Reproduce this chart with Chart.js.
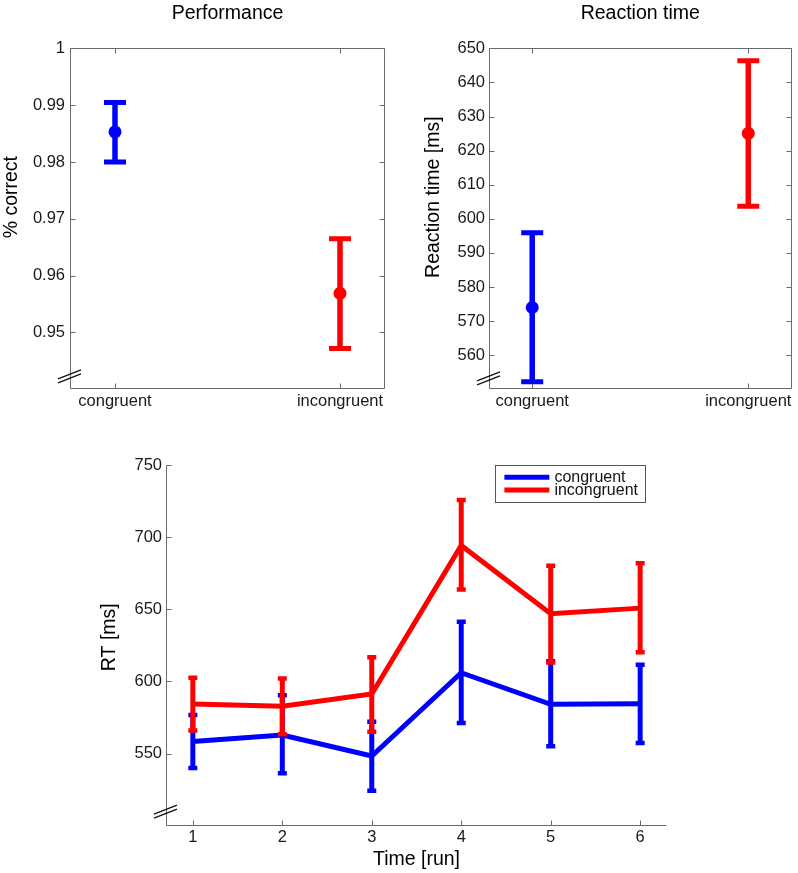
<!DOCTYPE html>
<html>
<head>
<meta charset="utf-8">
<script src="https://cdn.jsdelivr.net/npm/chart.js@4.4.0/dist/chart.umd.min.js"></script>
<style>
    html, body { margin: 0; padding: 0; background: #fff; }
    #wrap { position: relative; width: 798px; height: 873px; overflow: hidden; }
    .panel { position: absolute; }
</style>
</head>
<body>
<div id="wrap">
    <div class="panel" style="left:0;top:0"><canvas id="perfChart" width="399" height="420"></canvas></div>
    <div class="panel" style="left:399px;top:0"><canvas id="rtChart" width="399" height="420"></canvas></div>
    <div class="panel" style="left:0;top:420px"><canvas id="runChart" width="798" height="453"></canvas></div>
</div>
<script>
// Top panels: one value per condition
const conditions = ['congruent', 'incongruent'];
const conditionColors = ['#0000ff', '#ff0000'];

const accMean = [0.9853, 0.9569];
const accLow = [0.9800, 0.9472];
const accHigh = [0.9905, 0.9665];
const accTicks = [0.95, 0.96, 0.97, 0.98, 0.99, 1];

const rtMean = [574.0, 625.1];
const rtLow = [552.2, 603.7];
const rtHigh = [595.9, 646.4];
const rtTicks = [560, 570, 580, 590, 600, 610, 620, 630, 640, 650];

// Bottom panel: RT per run
const runs = [1, 2, 3, 4, 5, 6];
const congruentRT = [558.3, 562.9, 548.3, 606.0, 584.1, 584.5];
const congruentLow = [540.0, 536.3, 524.3, 571.2, 555.0, 557.3];
const congruentHigh = [576.7, 590.4, 572.1, 641.3, 614.0, 611.6];
const incongruentRT = [584.4, 582.8, 591.3, 694.2, 646.9, 650.8];
const incongruentLow = [565.9, 563.4, 565.2, 663.7, 613.2, 620.3];
const incongruentHigh = [602.6, 602.0, 616.7, 725.8, 680.1, 681.9];
const runRtTicks = [550, 600, 650, 700, 750];

Chart.defaults.font.family = '"Liberation Sans", Arial, Helvetica, sans-serif';
Chart.defaults.color = '#1a1a1a';

const tickFont = { size: 16.5 };
const titleFont = { size: 19.5, weight: 'normal' };

// error bars drawn from errLow / errHigh of each dataset
const errorBars = {
    id: 'errorBars',
    beforeDatasetDraw(chart, args, opts) {
        const ds = chart.data.datasets[args.index];
        if (!ds.errLow) return;
        const { ctx } = chart;
        const xs = chart.scales.x, ys = chart.scales.y;
        ctx.save();
        ds.data.forEach((p, i) => {
            const color = Array.isArray(ds.errColor) ? ds.errColor[i] : ds.errColor;
            const px = xs.getPixelForValue(p.x);
            const lo = ys.getPixelForValue(ds.errLow[i]);
            const hi = ys.getPixelForValue(ds.errHigh[i]);
            ctx.strokeStyle = color;
            ctx.lineWidth = opts.barWidth;
            ctx.beginPath();
            ctx.moveTo(px, lo);
            ctx.lineTo(px, hi);
            ctx.stroke();
            ctx.lineWidth = opts.capThickness;
            ctx.beginPath();
            ctx.moveTo(px - opts.capHalf, lo); ctx.lineTo(px + opts.capHalf, lo);
            ctx.moveTo(px - opts.capHalf, hi); ctx.lineTo(px + opts.capHalf, hi);
            ctx.stroke();
        });
        ctx.restore();
    }
};

// MATLAB-like axes: inward ticks, optional box, axis break mark
const matlabAxes = {
    id: 'matlabAxes',
    beforeDatasetsDraw(chart, args, opts) {
        const { ctx, chartArea: a } = chart;
        const xs = chart.scales.x, ys = chart.scales.y;
        const L = Math.round(a.left) + 0.5, R = Math.round(a.right) - 0.5;
        const T = Math.round(a.top) + 0.5, B = Math.round(a.bottom) - 0.5;
        const tick = 5;
        ctx.save();
        ctx.strokeStyle = '#6a6a6a';
        ctx.lineWidth = 1;
        ctx.beginPath();
        ctx.moveTo(L, T); ctx.lineTo(L, B); ctx.lineTo(R, B);
        if (opts.box) { ctx.lineTo(R, T); ctx.closePath(); }
        ys.ticks.forEach(t => {
            const py = Math.round(ys.getPixelForValue(t.value)) + 0.5;
            ctx.moveTo(L, py); ctx.lineTo(L + tick, py);
            if (opts.box) { ctx.moveTo(R, py); ctx.lineTo(R - tick, py); }
        });
        xs.ticks.forEach(t => {
            const px = Math.round(xs.getPixelForValue(t.value)) + 0.5;
            ctx.moveTo(px, B); ctx.lineTo(px, B - tick);
            if (opts.box) { ctx.moveTo(px, T); ctx.lineTo(px, T + tick); }
        });
        ctx.stroke();

        // the "//" break on the y axis
        const cy = a.bottom - opts.breakUp;
        ctx.strokeStyle = '#111';
        ctx.lineWidth = 1.3;
        ctx.beginPath();
        [-2, 2].forEach(d => {
            ctx.moveTo(a.left - 12, cy + 4.5 + d);
            ctx.lineTo(a.left + 11, cy - 4.5 + d);
        });
        ctx.stroke();
        ctx.restore();
    }
};

// legend box inside the plot, top right
const boxLegend = {
    id: 'boxLegend',
    afterDatasetsDraw(chart, args, opts) {
        const { ctx, chartArea: a } = chart;
        const sets = chart.data.datasets;
        ctx.save();
        ctx.font = '16px "Liberation Sans", Arial, sans-serif';
        const maxW = Math.max(...sets.map(d => ctx.measureText(d.label).width));
        const w = 9 + 45 + 5 + maxW + 7;
        const h = 37.4;
        const right = a.right - 22;
        const left = right - w;
        const top = a.top - 0.5;
        ctx.fillStyle = '#fff';
        ctx.fillRect(left, top, w, h);
        ctx.strokeStyle = '#555';
        ctx.lineWidth = 1;
        ctx.strokeRect(Math.round(left) + 0.5, Math.round(top) + 0.5, Math.round(w), Math.round(h));
        sets.forEach((d, i) => {
            const y = top + 12.7 * (i + 1);
            ctx.strokeStyle = d.borderColor;
            ctx.lineWidth = 5;
            ctx.beginPath();
            ctx.moveTo(left + 9, y);
            ctx.lineTo(left + 54, y);
            ctx.stroke();
            ctx.fillStyle = '#111';
            ctx.textBaseline = 'middle';
            ctx.fillText(d.label, left + 59, y + 0.5);
        });
        ctx.restore();
    }
};

// leading spaces move a rotated axis title up along its axis, as in the original figure
const lift = n => ' '.repeat(n);

function conditionChart(id, cfg) {
    return new Chart(document.getElementById(id), {
        type: 'scatter',
        data: {
            datasets: [{
                data: conditions.map((c, i) => ({ x: i + 1, y: cfg.mean[i] })),
                pointRadius: 6.5,
                pointBackgroundColor: conditionColors,
                pointBorderColor: conditionColors,
                pointBorderWidth: 0,
                errLow: cfg.low,
                errHigh: cfg.high,
                errColor: conditionColors
            }]
        },
        plugins: [errorBars, matlabAxes],
        options: {
            responsive: false,
            animation: false,
            events: [],
            layout: { padding: { left: 0, right: cfg.padRight, top: 0, bottom: 0 } },
            plugins: {
                legend: { display: false },
                tooltip: { enabled: false },
                title: {
                    display: true,
                    text: cfg.title,
                    fullSize: false,
                    font: titleFont,
                    color: '#000',
                    padding: { top: 2, bottom: 23 }
                },
                errorBars: { barWidth: 5.5, capThickness: 5, capHalf: 11 },
                matlabAxes: { box: true, breakUp: cfg.breakUp }
            },
            scales: {
                x: {
                    type: 'linear',
                    min: 0.8,
                    max: 2.2,
                    bounds: 'data',
                    grid: { display: false, drawTicks: false },
                    border: { display: false },
                    afterBuildTicks: s => { s.ticks = conditions.map((c, i) => ({ value: i + 1 })); },
                    afterFit: s => { s.height = 30.7; },
                    ticks: {
                        autoSkip: false,
                        maxRotation: 0,
                        padding: 2,
                        font: tickFont,
                        callback: v => conditions[Math.round(v) - 1]
                    }
                },
                y: {
                    type: 'linear',
                    min: cfg.yMin,
                    max: cfg.yMax,
                    bounds: 'data',
                    grid: { display: false, drawTicks: false },
                    border: { display: false },
                    afterBuildTicks: s => { s.ticks = cfg.ticks.map(v => ({ value: v })); },
                    afterFit: s => { s.width = cfg.yWidth; },
                    ticks: { padding: cfg.labelPad, font: tickFont, callback: v => String(+v.toFixed(2)) },
                    title: {
                        display: true,
                        text: lift(8) + cfg.yTitle,
                        font: titleFont,
                        color: '#000',
                        padding: { top: cfg.titlePad, bottom: 0 }
                    }
                }
            }
        }
    });
}

conditionChart('perfChart', {
    title: 'Performance', yTitle: '% correct',
    mean: accMean, low: accLow, high: accHigh, ticks: accTicks,
    yMin: 0.94, yMax: 1, yWidth: 70, titlePad: 0, labelPad: 5, padRight: 14, breakUp: 13
});

conditionChart('rtChart', {
    title: 'Reaction time', yTitle: 'Reaction time [ms]',
    mean: rtMean, low: rtLow, high: rtHigh, ticks: rtTicks,
    yMin: 550, yMax: 650, yWidth: 90, titlePad: 22.6, labelPad: 4, padRight: 5, breakUp: 11
});

new Chart(document.getElementById('runChart'), {
    type: 'line',
    data: {
        datasets: [
            {
                label: 'congruent',
                data: runs.map((r, i) => ({ x: r, y: congruentRT[i] })),
                borderColor: '#0000ff',
                borderWidth: 5,
                pointRadius: 0,
                tension: 0,
                order: 2,
                errLow: congruentLow,
                errHigh: congruentHigh,
                errColor: '#0000ff'
            },
            {
                label: 'incongruent',
                data: runs.map((r, i) => ({ x: r, y: incongruentRT[i] })),
                borderColor: '#ff0000',
                borderWidth: 5,
                pointRadius: 0,
                tension: 0,
                order: 1,
                errLow: incongruentLow,
                errHigh: incongruentHigh,
                errColor: '#ff0000'
            }
        ]
    },
    plugins: [errorBars, matlabAxes, boxLegend],
    options: {
        responsive: false,
        animation: false,
        events: [],
        layout: { padding: { left: 0, right: 131, top: 45, bottom: 0 } },
        plugins: {
            legend: { display: false },
            tooltip: { enabled: false },
            errorBars: { barWidth: 5, capThickness: 4.5, capHalf: 4.5 },
            matlabAxes: { box: false, breakUp: 14 }
        },
        scales: {
            x: {
                type: 'linear',
                min: 0.7,
                max: 6.3,
                bounds: 'data',
                grid: { display: false, drawTicks: false },
                border: { display: false },
                afterBuildTicks: s => { s.ticks = runs.map(v => ({ value: v })); },
                afterFit: s => { s.height = 47.3; },
                ticks: { autoSkip: false, maxRotation: 0, padding: 2, font: tickFont },
                title: {
                    display: true,
                    text: 'Time [run]',
                    font: titleFont,
                    color: '#000',
                    padding: { top: 0, bottom: 1.3 }
                }
            },
            y: {
                type: 'linear',
                min: 500,
                max: 750,
                bounds: 'data',
                grid: { display: false, drawTicks: false },
                border: { display: false },
                afterBuildTicks: s => { s.ticks = runRtTicks.map(v => ({ value: v })); },
                afterFit: s => { s.width = 166; },
                ticks: { padding: 4, font: tickFont },
                title: {
                    display: true,
                    text: lift(3) + 'RT [ms]',
                    font: titleFont,
                    color: '#000',
                    padding: { top: 98.3, bottom: 0 }
                }
            }
        }
    }
});
</script>
</body>
</html>
